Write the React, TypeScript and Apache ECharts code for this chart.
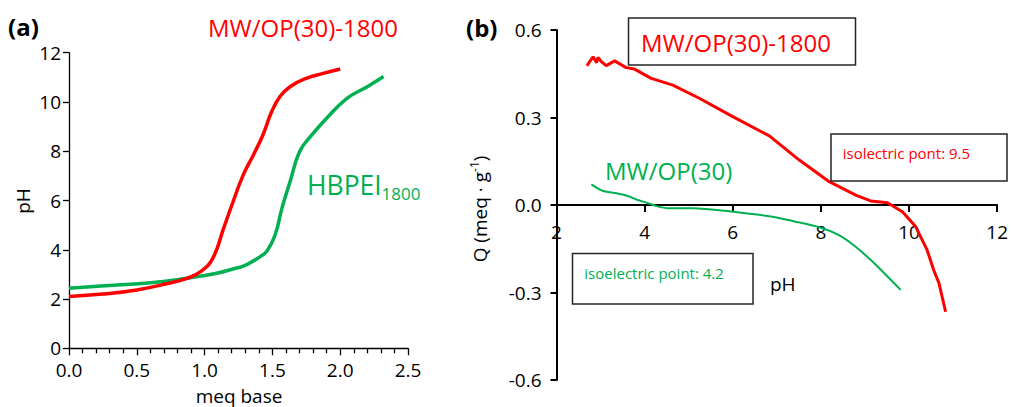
import React, { useEffect, useRef } from "react";
import * as echarts from "echarts";

const RED = "#FF0000";
const GREEN = "#00B050";
const FONT = "'Open Sans', sans-serif";
const AXIS = "#000000";

// Panel (a): titration curves, [meq base, pH]
const titrationOP1800: number[][] = [
  [0, 2.1], [0.25, 2.2], [0.5, 2.37], [0.72, 2.62], [0.87, 2.84], [0.97, 3.11],
  [1.06, 3.65], [1.14, 4.87], [1.21, 5.95], [1.285, 7.04], [1.36, 7.85],
  [1.43, 8.66], [1.495, 9.61], [1.556, 10.22], [1.63, 10.62], [1.75, 10.96],
  [1.875, 11.16], [2.0, 11.34],
];
const titrationHBPEI: number[][] = [
  [0, 2.44], [0.3, 2.55], [0.6, 2.66], [0.87, 2.84], [0.97, 2.93], [1.09, 3.05],
  [1.21, 3.22], [1.29, 3.35], [1.36, 3.55], [1.41, 3.72], [1.46, 3.95],
  [1.52, 4.6], [1.57, 5.68], [1.63, 6.76], [1.7, 7.98], [1.78, 8.59],
  [1.9, 9.34], [2.05, 10.15], [2.2, 10.62], [2.32, 11.03],
];

// Panel (b): surface charge, [pH, Q]
const chargeOP1800: number[][] = [
  [2.69, 0.477], [2.75, 0.491], [2.83, 0.508], [2.91, 0.488], [2.94, 0.506],
  [3.02, 0.491], [3.13, 0.478], [3.32, 0.494], [3.58, 0.471], [3.77, 0.466],
  [4.15, 0.434], [4.64, 0.411], [5.24, 0.366], [6.0, 0.303], [6.83, 0.237],
  [7.51, 0.154], [8.19, 0.08], [8.79, 0.034], [9.13, 0.014], [9.51, 0.008],
  [9.85, -0.023], [10.15, -0.074], [10.41, -0.154], [10.56, -0.223],
  [10.68, -0.268], [10.83, -0.366],
];
const chargeOP: number[][] = [
  [2.79, 0.071], [3.06, 0.048], [3.36, 0.04], [3.62, 0.031], [3.81, 0.019],
  [4.04, 0.008], [4.23, -0.002], [4.53, -0.011], [5.09, -0.011], [6.0, -0.023],
  [6.9, -0.04], [7.36, -0.055], [8.0, -0.078], [8.41, -0.103], [8.79, -0.143],
  [9.17, -0.194], [9.55, -0.251], [9.81, -0.291],
];

const titrationXRange = [0, 2.5, 0.5];
const titrationYRange = [0, 12, 2];
const chargeXRange = [2, 12, 2];
const chargeYRange = [-0.6, 0.6, 0.3];

const labelStyle = { fontSize: 19, fontFamily: FONT, color: "#000" };

function txt(text: string, x: number, y: number, size: number, fill: string, extra: any = {}) {
  return {
    type: "text",
    x,
    y,
    z: 10,
    ...extra,
    style: {
      text,
      fill,
      fontSize: size,
      fontFamily: FONT,
      textAlign: "left",
      textVerticalAlign: "middle",
      ...(extra.style || {}),
    },
  };
}

export default function App() {
  const ref = useRef<HTMLDivElement>(null);
  useEffect(() => {
    if (!ref.current) return;
    const chart = echarts.init(ref.current, undefined, { renderer: "svg" });
    const fmt1 = (v: number) => (Math.abs(v) < 1e-9 ? "0.0" : v.toFixed(1));
    const gridB = { left: 556.5, top: 30, width: 441.8, height: 350 };
    // distance from grid bottom up to the Q = 0 line
    const zeroOffset = (gridB.height * (0 - chargeYRange[0])) / (chargeYRange[1] - chargeYRange[0]);
    const option: any = {
      animation: false,
      backgroundColor: "#fff",
      grid: [
        { left: 69, top: 52.7, width: 339, height: 295.6 },
        gridB,
      ],
      xAxis: [
        {
          gridIndex: 0, type: "value",
          min: titrationXRange[0], max: titrationXRange[1], interval: titrationXRange[2],
          axisLine: { show: true, onZero: false, lineStyle: { color: AXIS, width: 1.3 } },
          axisTick: { show: true, length: 7, lineStyle: { color: AXIS, width: 1.3 } },
          minorTick: { show: true, splitNumber: 5, length: 5, lineStyle: { color: AXIS, width: 1.3 } },
          axisLabel: { ...labelStyle, margin: 12, formatter: fmt1 },
          splitLine: { show: false },
        },
        {
          gridIndex: 1, type: "value", position: "bottom", offset: -zeroOffset,
          min: chargeXRange[0], max: chargeXRange[1], interval: chargeXRange[2],
          axisLine: { show: true, onZero: false, lineStyle: { color: AXIS, width: 2 } },
          axisTick: { show: true, length: 7, lineStyle: { color: AXIS, width: 2 } },
          axisLabel: { ...labelStyle, margin: 17 },
          splitLine: { show: false },
        },
      ],
      yAxis: [
        {
          gridIndex: 0, type: "value",
          min: titrationYRange[0], max: titrationYRange[1], interval: titrationYRange[2],
          axisLine: { show: true, onZero: false, lineStyle: { color: AXIS, width: 1.3 } },
          axisTick: { show: true, length: 6, lineStyle: { color: AXIS, width: 1.3 } },
          axisLabel: { ...labelStyle, margin: 8 },
          splitLine: { show: false },
        },
        {
          gridIndex: 1, type: "value",
          min: chargeYRange[0], max: chargeYRange[1], interval: chargeYRange[2],
          axisLine: { show: true, onZero: false, lineStyle: { color: AXIS, width: 2 } },
          axisTick: { show: true, length: 6, lineStyle: { color: AXIS, width: 2 } },
          axisLabel: { ...labelStyle, margin: 15, formatter: fmt1 },
          splitLine: { show: false },
        },
      ],
      series: [
        {
          type: "line", xAxisIndex: 0, yAxisIndex: 0, data: titrationHBPEI,
          symbol: "none", smooth: 0.45, lineStyle: { color: GREEN, width: 3.5 }, itemStyle: { color: GREEN },
        },
        {
          type: "line", xAxisIndex: 0, yAxisIndex: 0, data: titrationOP1800,
          symbol: "none", smooth: 0.45, lineStyle: { color: RED, width: 3.5 }, itemStyle: { color: RED },
        },
        {
          type: "line", xAxisIndex: 1, yAxisIndex: 1, data: chargeOP,
          symbol: "none", smooth: 0.3, lineStyle: { color: GREEN, width: 2 }, itemStyle: { color: GREEN },
        },
        {
          type: "line", xAxisIndex: 1, yAxisIndex: 1, data: chargeOP1800,
          symbol: "none", smooth: false, lineStyle: { color: RED, width: 3 }, itemStyle: { color: RED },
        },
      ],
      graphic: [
        txt("(a)", 8, 26, 24, "#000", { style: { fontWeight: "bold" } }),
        txt("(b)", 466, 27, 24, "#000", { style: { fontWeight: "bold" } }),
        txt("MW/OP(30)-1800", 208, 27, 24, RED),
        txt("HBPEI", 307, 185, 26.5, GREEN),
        txt("1800", 381.5, 193.5, 17, GREEN),
        txt("pH", 23, 201, 19, "#000", { rotation: Math.PI / 2, style: { textAlign: "center" } }),
        txt("meq base", 239, 396, 19, "#000", { style: { textAlign: "center" } }),
        {
          type: "rect", z: 5,
          shape: { x: 628.5, y: 18, width: 227, height: 47 },
          style: { fill: "transparent", stroke: "#262626", lineWidth: 1.5 },
        },
        txt("MW/OP(30)-1800", 641, 42, 24, RED),
        {
          type: "rect", z: 5,
          shape: { x: 831, y: 134, width: 176, height: 47 },
          style: { fill: "transparent", stroke: "#262626", lineWidth: 1.5 },
        },
        txt("isolectric pont: 9.5", 842.7, 152.8, 15, RED),
        {
          type: "rect", z: 5,
          shape: { x: 572.5, y: 253.5, width: 180.5, height: 50.5 },
          style: { fill: "transparent", stroke: "#262626", lineWidth: 1.5 },
        },
        txt("isoelectric point: 4.2", 584.3, 272.8, 15, GREEN),
        txt("MW/OP(30)", 605, 170.4, 24, GREEN),
        txt("pH", 770, 284, 19, "#000"),
        {
          type: "text", z: 10, x: 480, y: 209, rotation: Math.PI / 2,
          style: {
            text: "{t|Q (meq · g}{s|-1}{t|)}",
            textAlign: "center",
            textVerticalAlign: "middle",
            rich: {
              t: { fontSize: 19, fontFamily: FONT, fill: "#000", lineHeight: 24 },
              s: { fontSize: 12, fontFamily: FONT, fill: "#000", verticalAlign: "top" },
            },
          },
        },
      ],
    };
    chart.setOption(option);
    return () => chart.dispose();
  }, []);
  return (
    <div
      ref={ref}
      style={{ position: "fixed", left: 0, top: 0, width: 1011, height: 407, background: "#fff" }}
    />
  );
}
